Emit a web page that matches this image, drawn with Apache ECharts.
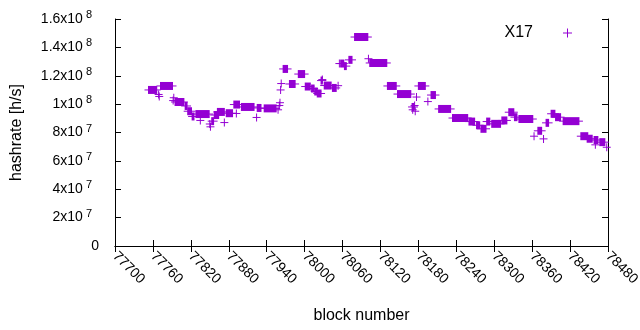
<!DOCTYPE html>
<html>
<head>
<meta charset="utf-8">
<script src="https://cdn.jsdelivr.net/npm/echarts@6/dist/echarts.min.js"></script>
<style>
  html, body { margin: 0; padding: 0; background: #fff; }
  #chart { width: 640px; height: 330px; }
</style>
</head>
<body>
<div id="chart"></div>
<script>
// x axis range (block number)
const blockMin = 77700;
const blockMax = 78480;
const blockStep = 60;

// runs of blocks that share one hashrate: [first block, last block, hashrate h/s]
const runs = [
  [77753, 77766, 1.10e8],
  [77772, 77791, 1.128e8],
  [77795, 77809, 1.015e8],
  [77811, 77814, 0.987e8],
  [77815, 77821, 0.95e8],
  [77822, 77825, 0.913e8],
  [77828, 77849, 0.93e8],
  [77853, 77856, 0.88e8],
  [77857, 77864, 0.923e8],
  [77862, 77873, 0.945e8],
  [77876, 77886, 0.936e8],
  [77888, 77897, 0.997e8],
  [77900, 77920, 0.98e8],
  [77925, 77931, 0.973e8],
  [77936, 77955, 0.97e8],
  [77966, 77973, 1.248e8],
  [77976, 77985, 1.142e8],
  [77990, 78000, 1.212e8],
  [78001, 78009, 1.124e8],
  [78011, 78015, 1.11e8],
  [78016, 78020, 1.089e8],
  [78020, 78026, 1.075e8],
  [78026, 78028, 1.166e8],
  [78031, 78042, 1.131e8],
  [78044, 78050, 1.114e8],
  [78057, 78062, 1.286e8],
  [78063, 78066, 1.268e8],
  [78070, 78075, 1.312e8],
  [78079, 78100, 1.473e8],
  [78103, 78130, 1.29e8],
  [78131, 78145, 1.128e8],
  [78147, 78168, 1.071e8],
  [78170, 78173, 0.98e8],
  [78180, 78191, 1.128e8],
  [78200, 78207, 1.064e8],
  [78212, 78231, 0.966e8],
  [78234, 78258, 0.902e8],
  [78260, 78269, 0.877e8],
  [78272, 78277, 0.851e8],
  [78279, 78287, 0.826e8],
  [78288, 78293, 0.877e8],
  [78296, 78310, 0.861e8],
  [78312, 78320, 0.885e8],
  [78323, 78331, 0.943e8],
  [78332, 78336, 0.908e8],
  [78339, 78361, 0.895e8],
  [78369, 78375, 0.812e8],
  [78382, 78386, 0.868e8],
  [78390, 78396, 0.932e8],
  [78397, 78405, 0.908e8],
  [78409, 78434, 0.88e8],
  [78437, 78448, 0.774e8],
  [78447, 78455, 0.756e8],
  [78458, 78464, 0.747e8],
  [78467, 78475, 0.732e8]
];

// lone blocks: [block, hashrate h/s]
const singles = [
  [77769, 1.068e8], [77770, 1.054e8], [77792, 1.025e8], [77793, 1.045e8],
  [77835, 0.885e8], [77850, 0.86e8], [77851, 0.84e8], [77873, 0.87e8],
  [77892, 0.934e8], [77924, 0.906e8], [77958, 0.96e8], [77960, 0.99e8],
  [77961, 1.01e8], [77962, 1.10e8], [77963, 1.145e8], [78028, 1.173e8],
  [78053, 1.13e8], [78055, 1.286e8], [78101, 1.32e8], [78171, 0.96e8],
  [78174, 0.99e8], [78175, 0.95e8], [78177, 1.05e8], [78195, 1.018e8],
  [78363, 0.774e8], [78378, 0.755e8], [78460, 0.713e8], [78478, 0.696e8]
];

const purple = "#9400d3";
const font = "Liberation Sans";

// every run is a row of "+" marks: the vertical arms merge into a block
function renderPlus(params, api) {
  const arm = 4;
  const a = api.coord([api.value(0), api.value(2)]);
  const b = api.coord([api.value(1), api.value(2)]);
  return {
    type: "group",
    children: [
      {
        type: "rect",
        shape: { x: a[0] - 0.5, y: a[1] - arm, width: b[0] - a[0] + 1, height: arm * 2 },
        style: { fill: purple }
      },
      {
        type: "line",
        shape: { x1: a[0] - arm, y1: a[1], x2: b[0] + arm, y2: b[1] },
        style: { stroke: purple, lineWidth: 1 }
      }
    ]
  };
}

const markData = runs.concat(singles.map(p => [p[0], p[0], p[1]]));

function yLabel(v) {
  if (v === 0) return "{m|0}";
  const e = Math.floor(Math.log10(v));
  const m = +(v / Math.pow(10, e)).toFixed(1);
  return "{m|" + m + "x10}{e|" + e + "}";
}

const chart = echarts.init(document.getElementById("chart"));
chart.setOption({
  animation: false,
  textStyle: { fontFamily: font, color: "#000" },
  grid: { left: 115, right: 32, top: 19, bottom: 84, outerBoundsMode: "none", containLabel: false },
  legend: {
    right: 68,
    top: 25,
    padding: 0,
    align: "right",
    itemWidth: 9,
    itemHeight: 9,
    data: [{ name: "X17", icon: "path://M0,4L9,4L9,5L0,5Z M4,0L5,0L5,9L4,9Z" }],
    textStyle: { fontFamily: font, fontSize: 16, color: "#000", padding: [0, 25, 0, 0] }
  },
  xAxis: [
    {
      type: "value",
      min: blockMin,
      max: blockMax,
      interval: blockStep,
      name: "block number",
      nameLocation: "middle",
      nameGap: 62,
      nameTextStyle: { fontFamily: font, fontSize: 16, color: "#000" },
      axisLine: { lineStyle: { color: "#000", width: 1 } },
      axisTick: { inside: true, length: 6, lineStyle: { color: "#000" } },
      axisLabel: {
        rotate: -45,
        fontFamily: font,
        fontSize: 14,
        color: "#000",
        margin: 8,
        formatter: v => String(v)
      },
      splitLine: { show: false }
    },
    {
      type: "value",
      position: "top",
      min: blockMin,
      max: blockMax,
      interval: blockStep,
      axisLine: { lineStyle: { color: "#000", width: 1 } },
      axisTick: { inside: true, length: 6, lineStyle: { color: "#000" } },
      axisLabel: { show: false },
      splitLine: { show: false }
    }
  ],
  yAxis: [
    {
      type: "value",
      min: 0,
      max: 1.6e8,
      interval: 2e7,
      name: "hashrate [h/s]",
      nameLocation: "middle",
      nameRotate: 90,
      nameGap: 90,
      nameTextStyle: { fontFamily: font, fontSize: 16, color: "#000" },
      axisLine: { show: true, lineStyle: { color: "#000", width: 1 } },
      axisTick: { show: true, inside: true, length: 6, lineStyle: { color: "#000" } },
      axisLabel: {
        margin: 16,
        formatter: yLabel,
        rich: {
          m: { fontFamily: font, fontSize: 14, color: "#000", lineHeight: 16 },
          e: { fontFamily: font, fontSize: 11, color: "#000", padding: [0, 7, 8, 3] }
        }
      },
      splitLine: { show: false }
    },
    {
      type: "value",
      position: "right",
      min: 0,
      max: 1.6e8,
      interval: 2e7,
      axisLine: { show: true, lineStyle: { color: "#000", width: 1 } },
      axisTick: { show: true, inside: true, length: 6, lineStyle: { color: "#000" } },
      axisLabel: { show: false },
      splitLine: { show: false }
    }
  ],
  series: [
    {
      name: "X17",
      type: "custom",
      xAxisIndex: 0,
      yAxisIndex: 0,
      itemStyle: { color: purple },
      renderItem: renderPlus,
      encode: { x: [0, 1], y: 2 },
      data: markData
    }
  ]
});
</script>
</body>
</html>
